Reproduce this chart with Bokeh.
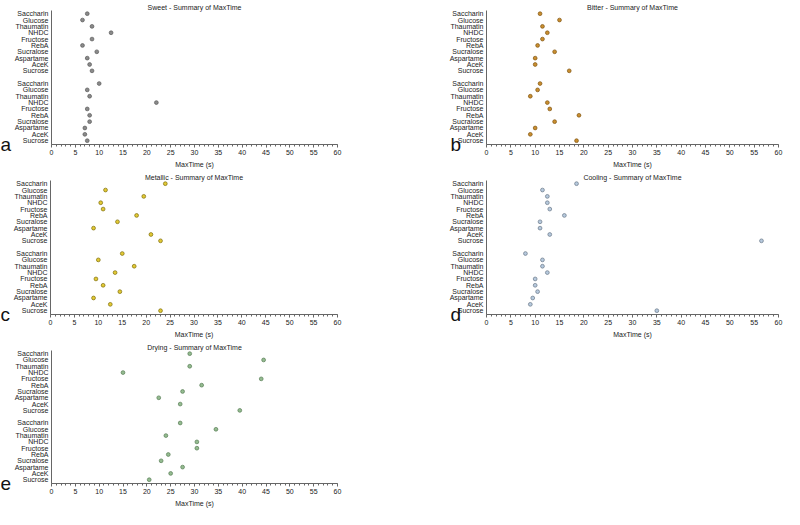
from bokeh.plotting import figure
from bokeh.models import Range1d, FixedTicker, SingleIntervalTicker, Label, ColumnDataSource
from bokeh.layouts import column, row
from bokeh.embed import file_html
from bokeh.resources import INLINE

# ---- data ----
sweeteners = ["Saccharin", "Glucose", "Thaumatin", "NHDC", "Fructose",
              "RebA", "Sucralose", "Aspartame", "AceK", "Sucrose"]
x_ticks = [0, 5, 10, 15, 20, 25, 30, 35, 40, 45, 50, 55, 60]

sweet_upper = [7.5, 6.5, 8.5, 12.5, 8.5, 6.5, 9.5, 7.5, 8, 8.5]
sweet_lower = [10, 7.5, 8, 22, 7.5, 8, 8, 7, 7, 7.5]
bitter_upper = [11, 15, 11.5, 12.5, 11.5, 10.5, 14, 10, 10, 17]
bitter_lower = [11, 10.5, 9, 12.5, 13, 19, 14, 10, 9, 18.5]
metallic_upper = [24, 11.5, 19.5, 10.5, 11, 18, 14, 9, 21, 23]
metallic_lower = [15, 10, 17.5, 13.5, 9.5, 11, 14.5, 9, 12.5, 23]
cooling_upper = [18.5, 11.5, 12.5, 12.5, 13, 16, 11, 11, 13, 56.5]
cooling_lower = [8, 11.5, 11.5, 12.5, 10, 10, 10.5, 9.5, 9, 35]
drying_upper = [29, 44.5, 29, 15, 44, 31.5, 27.5, 22.5, 27, 39.5]
drying_lower = [27, 34.5, 24, 30.5, 30.5, 24.5, 23, 27.5, 25, 20.5]

FONT = "Liberation Sans"
n = len(sweeteners)
# slot positions: upper group at top, one empty slot, lower group at bottom
upper_pos = [2 * n - i for i in range(n)]
lower_pos = [n - 1 - i for i in range(n)]
Y_MIN, Y_MAX = -0.6, 2 * n + 0.5


def make_panel(title, upper, lower, fill, line, letter, left, right, height, letter_dx):
    p = figure(width=392, height=height, title=title,
               x_range=Range1d(x_ticks[0], x_ticks[-1]), y_range=Range1d(Y_MIN, Y_MAX),
               output_backend="svg", toolbar_location=None,
               min_border_left=left, min_border_right=right,
               min_border_top=10, min_border_bottom=25)
    p.title.text_font = FONT
    p.title.text_font_size = "7px"
    p.title.text_font_style = "normal"
    p.title.align = "center"
    p.title.standoff = 0
    p.title.text_color = "#222222"
    p.xgrid.visible = False
    p.ygrid.visible = False
    p.outline_line_color = None

    xa = p.xaxis[0]
    xa.ticker = SingleIntervalTicker(interval=5, num_minor_ticks=5)
    xa.axis_label = "MaxTime (s)"
    xa.axis_label_text_font = FONT
    xa.axis_label_text_font_size = "7px"
    xa.axis_label_text_font_style = "normal"
    xa.axis_label_standoff = 3
    xa.major_label_text_font = FONT
    xa.major_label_text_font_size = "7px"
    xa.major_label_standoff = 2
    xa.major_tick_out = 3
    xa.major_tick_in = 0
    xa.minor_tick_out = 2
    xa.minor_tick_in = 0
    xa.axis_line_color = "#666666"
    xa.major_tick_line_color = "#666666"
    xa.minor_tick_line_color = "#666666"
    xa.major_label_text_color = "#222222"
    xa.axis_label_text_color = "#222222"

    ya = p.yaxis[0]
    ticks = upper_pos + lower_pos
    ya.ticker = FixedTicker(ticks=ticks)
    overrides = {}
    for i, name in enumerate(sweeteners):
        overrides[upper_pos[i]] = name
        overrides[lower_pos[i]] = name
    ya.major_label_overrides = overrides
    ya.major_label_text_font = FONT
    ya.major_label_text_font_size = "7px"
    ya.major_label_standoff = 3
    ya.major_tick_out = 0
    ya.major_tick_in = 0
    ya.minor_tick_out = 0
    ya.minor_tick_in = 0
    ya.axis_line_color = "#666666"
    ya.major_label_text_color = "#222222"

    src = ColumnDataSource(dict(x=list(upper) + list(lower),
                                y=upper_pos + lower_pos))
    p.scatter("x", "y", source=src, size=3.8, marker="circle",
              fill_color=fill, line_color=line, line_width=0.7)

    # panel letter in its own side panel, left of the category labels
    p.add_layout(Label(x=letter_dx, y=0, x_units="screen", y_units="screen",
                       text=letter, text_font=FONT, text_font_size="19px",
                       text_color="#111111", text_baseline="alphabetic",
                       text_align="left"), "left")
    return p


pa = make_panel("Sweet - Summary of MaxTime", sweet_upper, sweet_lower,
                "#8a8a8a", "#5a5a5a", "a", 50, 55, 170, 0)
pb = make_panel("Bitter - Summary of MaxTime", bitter_upper, bitter_lower,
                "#c98e2f", "#7f5512", "b", 94, 6, 170, 15)
pc = make_panel("Metallic - Summary of MaxTime", metallic_upper, metallic_lower,
                "#e2c934", "#7d6d0c", "c", 50, 55, 170, 0)
pd = make_panel("Cooling - Summary of MaxTime", cooling_upper, cooling_lower,
                "#b6c9dd", "#6a7888", "d", 94, 6, 170, 15)
pe = make_panel("Drying - Summary of MaxTime", drying_upper, drying_lower,
                "#94bb90", "#587d55", "e", 50, 55, 169, 0)

layout = column(row(pa, pb), row(pc, pd), pe)
open("out.html", "w").write(file_html(layout, INLINE))
